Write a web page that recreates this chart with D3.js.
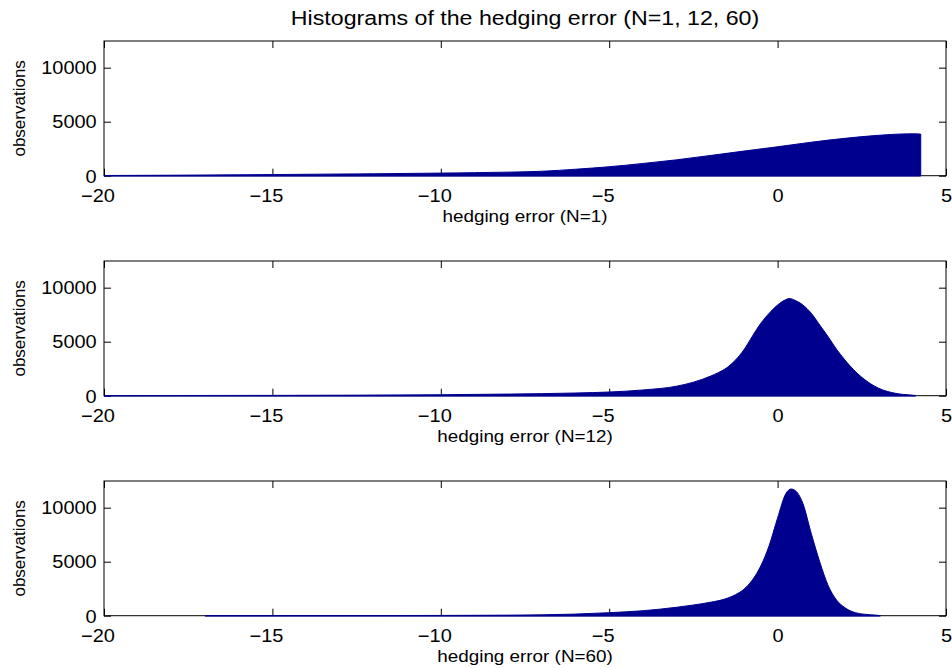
<!DOCTYPE html>
<html>
<head>
<meta charset="utf-8">
<script src="https://cdn.jsdelivr.net/npm/d3@7"></script>
<style>
  html, body { margin: 0; padding: 0; background: #fff; }
  svg { display: block; }
  text { font-family: "Liberation Sans", Arial, Helvetica, sans-serif; fill: #000; }
</style>
</head>
<body>
<svg id="chart" width="952" height="668"></svg>
<script>
// ---------- data ----------
const chartTitle = "Histograms of the hedging error (N=1, 12, 60)";
const yLabel = "observations";
const panelLabels = ["hedging error (N=1)", "hedging error (N=12)", "hedging error (N=60)"];
const xTicks = [-20, -15, -10, -5, 0, 5];
const yTicks = [0, 5000, 10000];
const xDomain = [-20, 5];
const yMax = 12470;

// N = 1 : bin centre (hedging error) and count
const errN1   = [-20, -18, -16, -15, -14, -13, -12, -11, -10, -9, -8, -7, -6, -5, -4, -3, -2, -1, 0, 1, 2, 3, 4, 4.25];
const countN1 = [20, 45, 85, 105, 130, 155, 180, 210, 240, 280, 330, 410, 600, 830, 1130, 1470, 1870, 2280, 2680, 3100, 3460, 3740, 3880, 3850];

// N = 12
const errN12   = [-20, -15, -10, -8, -6, -5, -4, -3, -2.5, -2, -1.75, -1.5, -1.25, -1, -0.75, -0.5, -0.25, 0, 0.25, 0.35, 0.5, 0.75, 1, 1.25, 1.5, 1.75, 2, 2.5, 3, 3.5, 4, 4.1];
const countN12 = [10, 30, 90, 150, 250, 340, 530, 880, 1250, 1800, 2150, 2600, 3300, 4250, 5500, 6700, 7630, 8400, 8900, 9000, 8850, 8400, 7630, 6550, 5460, 4300, 3300, 1700, 690, 220, 50, 20];

// N = 60
const errN60   = [-17, -15, -12, -10, -8, -7, -6, -5, -4, -3, -2.5, -2, -1.5, -1.25, -1, -0.75, -0.5, -0.25, 0, 0.25, 0.4, 0.5, 0.75, 1, 1.25, 1.5, 1.75, 2, 2.5, 3, 3.05];
const countN60 = [5, 10, 15, 25, 50, 80, 150, 280, 460, 780, 990, 1240, 1610, 1950, 2450, 3300, 4600, 6500, 9050, 11330, 11730, 11640, 10400, 7600, 5000, 2800, 1450, 740, 160, 30, 10];

const seriesX = [errN1, errN12, errN60];
const seriesY = [countN1, countN12, countN60];

// ---------- layout ----------
const W = 952, H = 668;
const plotLeft = 104, plotRight = 946;
const panelTops = [41, 261, 481];
const panelH = 134.7;
const barColor = "#00008f";
const sx = 1.11; // horizontal glyph stretch of the reference

const svg = d3.select("#chart");
svg.append("rect").attr("width", W).attr("height", H).attr("fill", "#fff");

const x = d3.scaleLinear().domain(xDomain).range([plotLeft, plotRight]);

// title
svg.append("text")
  .attr("transform", `translate(${(plotLeft + plotRight) / 2},25) scale(${sx},1)`)
  .attr("text-anchor", "middle")
  .style("font-size", "20.9px")
  .text(chartTitle);

panelTops.forEach((top, i) => {
  const bottom = top + panelH;
  const y = d3.scaleLinear().domain([0, yMax]).range([bottom, top]);
  const g = svg.append("g");

  // axes box
  g.append("rect")
    .attr("x", plotLeft).attr("y", top)
    .attr("width", plotRight - plotLeft).attr("height", panelH)
    .attr("fill", "none").attr("stroke", "#000").attr("stroke-width", 1);

  // x axis (bottom) with inward ticks
  const xa = g.append("g").attr("transform", `translate(0,${bottom})`)
    .call(d3.axisBottom(x).tickValues(xTicks).tickSizeInner(-7).tickSizeOuter(0)
      .tickFormat(d => d < 0 ? "\u2212" + Math.abs(d) : String(d)));
  xa.select(".domain").remove();
  xa.selectAll("line").attr("stroke", "#000");
  xa.selectAll("text")
    .attr("y", 26).attr("dy", null)
    .attr("x", d => (d < 0 ? -6.5 : 0) / sx)
    .attr("transform", `scale(${sx},1)`)
    .style("font-size", "18px").attr("fill", "#000");

  // x axis (top) ticks only
  const xt = g.append("g").attr("transform", `translate(0,${top})`)
    .call(d3.axisTop(x).tickValues(xTicks).tickSizeInner(-7).tickSizeOuter(0).tickFormat(""));
  xt.select(".domain").remove();
  xt.selectAll("line").attr("stroke", "#000");

  // y axis (left)
  const ya = g.append("g").attr("transform", `translate(${plotLeft},0)`)
    .call(d3.axisLeft(y).tickValues(yTicks).tickSizeInner(-7).tickSizeOuter(0).tickFormat(d3.format("d")));
  ya.select(".domain").remove();
  ya.selectAll("line").attr("stroke", "#000");
  ya.selectAll("text")
    .attr("x", -7.3 / sx).attr("dy", "0.35em")
    .attr("transform", `scale(${sx},1)`)
    .style("font-size", "18px").attr("fill", "#000");

  // y axis (right) ticks only
  const yr = g.append("g").attr("transform", `translate(${plotRight},0)`)
    .call(d3.axisRight(y).tickValues(yTicks).tickSizeInner(-7).tickSizeOuter(0).tickFormat(""));
  yr.select(".domain").remove();
  yr.selectAll("line").attr("stroke", "#000");

  // histogram (filled)
  const pts = seriesX[i].map((v, k) => [v, seriesY[i][k]]);
  const area = d3.area()
    .x(d => x(d[0]))
    .y0(y(0))
    .y1(d => y(d[1]))
    .curve(d3.curveMonotoneX);
  g.append("path")
    .datum(pts)
    .attr("d", area)
    .attr("fill", barColor)
    .attr("stroke", barColor)
    .attr("stroke-width", 1);
  g.append("line")
    .attr("x1", x(pts[0][0])).attr("x2", x(pts[pts.length - 1][0]))
    .attr("y1", y(0)).attr("y2", y(0))
    .attr("stroke", barColor).attr("stroke-width", 1.5);

  // x label
  g.append("text")
    .attr("transform", `translate(${(plotLeft + plotRight) / 2},${bottom + 46.5}) scale(${sx},1)`)
    .attr("text-anchor", "middle")
    .style("font-size", "17px")
    .text(panelLabels[i]);

  // y label
  g.append("text")
    .attr("transform", `translate(25,${(top + bottom) / 2}) rotate(-90)`)
    .attr("text-anchor", "middle")
    .style("font-size", "17px")
    .text(yLabel);
});
</script>
</body>
</html>
